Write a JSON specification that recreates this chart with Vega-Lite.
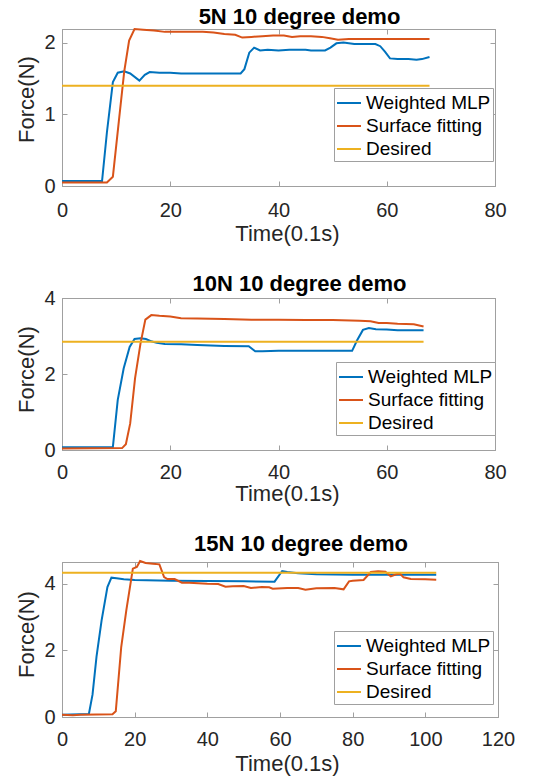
{
  "$schema": "https://vega.github.io/schema/vega-lite/v6.json",
  "background": "white",
  "padding": {"left": 15, "top": 5, "right": 5, "bottom": 2},
  "spacing": 27,
  "datasets": {
    "p1": [
      {"t": 0, "f": 0.07, "series": "Weighted MLP"},
      {"t": 7.4, "f": 0.07, "series": "Weighted MLP"},
      {"t": 8.3, "f": 0.75, "series": "Weighted MLP"},
      {"t": 9.4, "f": 1.45, "series": "Weighted MLP"},
      {"t": 10.3, "f": 1.58, "series": "Weighted MLP"},
      {"t": 11.5, "f": 1.6, "series": "Weighted MLP"},
      {"t": 12.6, "f": 1.57, "series": "Weighted MLP"},
      {"t": 14.3, "f": 1.47, "series": "Weighted MLP"},
      {"t": 15.3, "f": 1.55, "series": "Weighted MLP"},
      {"t": 16.2, "f": 1.59, "series": "Weighted MLP"},
      {"t": 18, "f": 1.58, "series": "Weighted MLP"},
      {"t": 20, "f": 1.58, "series": "Weighted MLP"},
      {"t": 22, "f": 1.57, "series": "Weighted MLP"},
      {"t": 26, "f": 1.57, "series": "Weighted MLP"},
      {"t": 30, "f": 1.57, "series": "Weighted MLP"},
      {"t": 33, "f": 1.57, "series": "Weighted MLP"},
      {"t": 33.7, "f": 1.63, "series": "Weighted MLP"},
      {"t": 34.6, "f": 1.86, "series": "Weighted MLP"},
      {"t": 35.5, "f": 1.93, "series": "Weighted MLP"},
      {"t": 36.6, "f": 1.89, "series": "Weighted MLP"},
      {"t": 38, "f": 1.9, "series": "Weighted MLP"},
      {"t": 40, "f": 1.89, "series": "Weighted MLP"},
      {"t": 42, "f": 1.9, "series": "Weighted MLP"},
      {"t": 45, "f": 1.9, "series": "Weighted MLP"},
      {"t": 46, "f": 1.89, "series": "Weighted MLP"},
      {"t": 48.6, "f": 1.89, "series": "Weighted MLP"},
      {"t": 49.6, "f": 1.93, "series": "Weighted MLP"},
      {"t": 50.7, "f": 1.99, "series": "Weighted MLP"},
      {"t": 52, "f": 2.0, "series": "Weighted MLP"},
      {"t": 54, "f": 1.98, "series": "Weighted MLP"},
      {"t": 57.9, "f": 1.98, "series": "Weighted MLP"},
      {"t": 58.8, "f": 1.95, "series": "Weighted MLP"},
      {"t": 59.7, "f": 1.87, "series": "Weighted MLP"},
      {"t": 60.6, "f": 1.78, "series": "Weighted MLP"},
      {"t": 62, "f": 1.77, "series": "Weighted MLP"},
      {"t": 64, "f": 1.77, "series": "Weighted MLP"},
      {"t": 65.5, "f": 1.76, "series": "Weighted MLP"},
      {"t": 66.5, "f": 1.77, "series": "Weighted MLP"},
      {"t": 67.9, "f": 1.8, "series": "Weighted MLP"},
      {"t": 0, "f": 0.05, "series": "Surface fitting"},
      {"t": 8.3, "f": 0.05, "series": "Surface fitting"},
      {"t": 9.4, "f": 0.13, "series": "Surface fitting"},
      {"t": 10.5, "f": 0.9, "series": "Surface fitting"},
      {"t": 11.5, "f": 1.6, "series": "Surface fitting"},
      {"t": 12.4, "f": 2.03, "series": "Surface fitting"},
      {"t": 13.4, "f": 2.19, "series": "Surface fitting"},
      {"t": 15, "f": 2.18, "series": "Surface fitting"},
      {"t": 17, "f": 2.17, "series": "Surface fitting"},
      {"t": 19, "f": 2.15, "series": "Surface fitting"},
      {"t": 22, "f": 2.15, "series": "Surface fitting"},
      {"t": 26, "f": 2.15, "series": "Surface fitting"},
      {"t": 28, "f": 2.14, "series": "Surface fitting"},
      {"t": 30, "f": 2.12, "series": "Surface fitting"},
      {"t": 32, "f": 2.11, "series": "Surface fitting"},
      {"t": 33.3, "f": 2.07, "series": "Surface fitting"},
      {"t": 35, "f": 2.08, "series": "Surface fitting"},
      {"t": 37, "f": 2.09, "series": "Surface fitting"},
      {"t": 39, "f": 2.1, "series": "Surface fitting"},
      {"t": 41, "f": 2.1, "series": "Surface fitting"},
      {"t": 42.5, "f": 2.08, "series": "Surface fitting"},
      {"t": 44, "f": 2.09, "series": "Surface fitting"},
      {"t": 46, "f": 2.09, "series": "Surface fitting"},
      {"t": 48, "f": 2.08, "series": "Surface fitting"},
      {"t": 49.5, "f": 2.06, "series": "Surface fitting"},
      {"t": 51, "f": 2.04, "series": "Surface fitting"},
      {"t": 53, "f": 2.05, "series": "Surface fitting"},
      {"t": 60, "f": 2.05, "series": "Surface fitting"},
      {"t": 67.9, "f": 2.05, "series": "Surface fitting"},
      {"t": 0, "f": 1.4, "series": "Desired"},
      {"t": 67.9, "f": 1.4, "series": "Desired"}
    ],
    "p2": [
      {"t": 0, "f": 0.07, "series": "Weighted MLP"},
      {"t": 9.4, "f": 0.08, "series": "Weighted MLP"},
      {"t": 10.3, "f": 1.32, "series": "Weighted MLP"},
      {"t": 11.4, "f": 2.15, "series": "Weighted MLP"},
      {"t": 12.5, "f": 2.71, "series": "Weighted MLP"},
      {"t": 13.4, "f": 2.92, "series": "Weighted MLP"},
      {"t": 14.5, "f": 2.94, "series": "Weighted MLP"},
      {"t": 15.5, "f": 2.92, "series": "Weighted MLP"},
      {"t": 16.5, "f": 2.86, "series": "Weighted MLP"},
      {"t": 17.5, "f": 2.82, "series": "Weighted MLP"},
      {"t": 19, "f": 2.79, "series": "Weighted MLP"},
      {"t": 22, "f": 2.78, "series": "Weighted MLP"},
      {"t": 25, "f": 2.76, "series": "Weighted MLP"},
      {"t": 30, "f": 2.74, "series": "Weighted MLP"},
      {"t": 34.5, "f": 2.73, "series": "Weighted MLP"},
      {"t": 35.7, "f": 2.6, "series": "Weighted MLP"},
      {"t": 37, "f": 2.6, "series": "Weighted MLP"},
      {"t": 40, "f": 2.61, "series": "Weighted MLP"},
      {"t": 45, "f": 2.61, "series": "Weighted MLP"},
      {"t": 50, "f": 2.61, "series": "Weighted MLP"},
      {"t": 53.6, "f": 2.61, "series": "Weighted MLP"},
      {"t": 54.5, "f": 2.88, "series": "Weighted MLP"},
      {"t": 55.6, "f": 3.16, "series": "Weighted MLP"},
      {"t": 56.7, "f": 3.21, "series": "Weighted MLP"},
      {"t": 58, "f": 3.18, "series": "Weighted MLP"},
      {"t": 60, "f": 3.17, "series": "Weighted MLP"},
      {"t": 62, "f": 3.15, "series": "Weighted MLP"},
      {"t": 66.8, "f": 3.15, "series": "Weighted MLP"},
      {"t": 0, "f": 0.04, "series": "Surface fitting"},
      {"t": 11.1, "f": 0.05, "series": "Surface fitting"},
      {"t": 11.8, "f": 0.15, "series": "Surface fitting"},
      {"t": 12.6, "f": 0.7, "series": "Surface fitting"},
      {"t": 13.5, "f": 1.89, "series": "Surface fitting"},
      {"t": 14.5, "f": 2.8, "series": "Surface fitting"},
      {"t": 15.4, "f": 3.43, "series": "Surface fitting"},
      {"t": 16.5, "f": 3.55, "series": "Surface fitting"},
      {"t": 18, "f": 3.53, "series": "Surface fitting"},
      {"t": 20, "f": 3.51, "series": "Surface fitting"},
      {"t": 22, "f": 3.47, "series": "Surface fitting"},
      {"t": 25, "f": 3.46, "series": "Surface fitting"},
      {"t": 30, "f": 3.45, "series": "Surface fitting"},
      {"t": 35, "f": 3.43, "series": "Surface fitting"},
      {"t": 40, "f": 3.43, "series": "Surface fitting"},
      {"t": 45, "f": 3.42, "series": "Surface fitting"},
      {"t": 50, "f": 3.42, "series": "Surface fitting"},
      {"t": 55, "f": 3.4, "series": "Surface fitting"},
      {"t": 57, "f": 3.39, "series": "Surface fitting"},
      {"t": 58.5, "f": 3.34, "series": "Surface fitting"},
      {"t": 60, "f": 3.34, "series": "Surface fitting"},
      {"t": 62, "f": 3.32, "series": "Surface fitting"},
      {"t": 65, "f": 3.31, "series": "Surface fitting"},
      {"t": 66.8, "f": 3.25, "series": "Surface fitting"},
      {"t": 0, "f": 2.85, "series": "Desired"},
      {"t": 66.8, "f": 2.85, "series": "Desired"}
    ],
    "p3": [
      {"t": 0, "f": 0.07, "series": "Weighted MLP"},
      {"t": 7.4, "f": 0.09, "series": "Weighted MLP"},
      {"t": 8.4, "f": 0.67, "series": "Weighted MLP"},
      {"t": 9.5, "f": 1.81, "series": "Weighted MLP"},
      {"t": 10.9, "f": 2.9, "series": "Weighted MLP"},
      {"t": 12.5, "f": 3.9, "series": "Weighted MLP"},
      {"t": 13.6, "f": 4.18, "series": "Weighted MLP"},
      {"t": 15, "f": 4.16, "series": "Weighted MLP"},
      {"t": 17, "f": 4.13, "series": "Weighted MLP"},
      {"t": 20, "f": 4.11, "series": "Weighted MLP"},
      {"t": 30, "f": 4.09, "series": "Weighted MLP"},
      {"t": 40, "f": 4.08, "series": "Weighted MLP"},
      {"t": 50, "f": 4.07, "series": "Weighted MLP"},
      {"t": 58.5, "f": 4.06, "series": "Weighted MLP"},
      {"t": 60.6, "f": 4.38, "series": "Weighted MLP"},
      {"t": 62, "f": 4.35, "series": "Weighted MLP"},
      {"t": 65, "f": 4.31, "series": "Weighted MLP"},
      {"t": 70, "f": 4.28, "series": "Weighted MLP"},
      {"t": 80, "f": 4.27, "series": "Weighted MLP"},
      {"t": 90, "f": 4.27, "series": "Weighted MLP"},
      {"t": 103, "f": 4.27, "series": "Weighted MLP"},
      {"t": 0, "f": 0.07, "series": "Surface fitting"},
      {"t": 3, "f": 0.05, "series": "Surface fitting"},
      {"t": 5, "f": 0.07, "series": "Surface fitting"},
      {"t": 13.9, "f": 0.08, "series": "Surface fitting"},
      {"t": 14.8, "f": 0.17, "series": "Surface fitting"},
      {"t": 16.3, "f": 2.1, "series": "Surface fitting"},
      {"t": 17.7, "f": 3.2, "series": "Surface fitting"},
      {"t": 19.5, "f": 4.45, "series": "Surface fitting"},
      {"t": 20.6, "f": 4.5, "series": "Surface fitting"},
      {"t": 21.5, "f": 4.68, "series": "Surface fitting"},
      {"t": 23, "f": 4.62, "series": "Surface fitting"},
      {"t": 25, "f": 4.6, "series": "Surface fitting"},
      {"t": 26.8, "f": 4.58, "series": "Surface fitting"},
      {"t": 28.1, "f": 4.2, "series": "Surface fitting"},
      {"t": 29, "f": 4.14, "series": "Surface fitting"},
      {"t": 31, "f": 4.14, "series": "Surface fitting"},
      {"t": 33, "f": 4.03, "series": "Surface fitting"},
      {"t": 35, "f": 4.03, "series": "Surface fitting"},
      {"t": 40, "f": 4.0, "series": "Surface fitting"},
      {"t": 43, "f": 3.99, "series": "Surface fitting"},
      {"t": 45, "f": 3.91, "series": "Surface fitting"},
      {"t": 47, "f": 3.92, "series": "Surface fitting"},
      {"t": 50, "f": 3.93, "series": "Surface fitting"},
      {"t": 52, "f": 3.87, "series": "Surface fitting"},
      {"t": 55, "f": 3.9, "series": "Surface fitting"},
      {"t": 57, "f": 3.89, "series": "Surface fitting"},
      {"t": 58, "f": 3.85, "series": "Surface fitting"},
      {"t": 62, "f": 3.87, "series": "Surface fitting"},
      {"t": 65, "f": 3.87, "series": "Surface fitting"},
      {"t": 67, "f": 3.82, "series": "Surface fitting"},
      {"t": 70, "f": 3.86, "series": "Surface fitting"},
      {"t": 75, "f": 3.87, "series": "Surface fitting"},
      {"t": 77.5, "f": 3.83, "series": "Surface fitting"},
      {"t": 79, "f": 4.07, "series": "Surface fitting"},
      {"t": 80, "f": 4.09, "series": "Surface fitting"},
      {"t": 83, "f": 4.11, "series": "Surface fitting"},
      {"t": 85, "f": 4.35, "series": "Surface fitting"},
      {"t": 87, "f": 4.37, "series": "Surface fitting"},
      {"t": 89, "f": 4.36, "series": "Surface fitting"},
      {"t": 90.5, "f": 4.22, "series": "Surface fitting"},
      {"t": 92, "f": 4.28, "series": "Surface fitting"},
      {"t": 93, "f": 4.3, "series": "Surface fitting"},
      {"t": 94, "f": 4.19, "series": "Surface fitting"},
      {"t": 96, "f": 4.14, "series": "Surface fitting"},
      {"t": 100, "f": 4.13, "series": "Surface fitting"},
      {"t": 103, "f": 4.12, "series": "Surface fitting"},
      {"t": 0, "f": 4.33, "series": "Desired"},
      {"t": 103, "f": 4.33, "series": "Desired"}
    ]
  },
  "vconcat": [
    {
      "title": {"text": "5N 10 degree demo", "offset": -4, "dx": 21},
      "width": 433,
      "height": 157,
      "data": {"name": "p1"},
      "layer": [
        {
          "mark": {"type": "line", "strokeWidth": 2},
          "encoding": {
            "x": {"field": "t", "type": "quantitative", "scale": {"domain": [0, 80], "nice": false}, "axis": {"values": [0, 20, 40, 60, 80], "title": "Time(0.1s)", "labelPadding": 19, "titlePadding": 3, "titleX": 225}},
            "y": {"field": "f", "type": "quantitative", "scale": {"domain": [0, 2.19], "nice": false}, "axis": {"values": [0, 1, 2], "title": "Force(N)", "titleY": 70}},
            "color": {"field": "series", "type": "nominal", "sort": null, "scale": {"domain": ["Weighted MLP", "Surface fitting", "Desired"], "range": ["#0072BD", "#D95319", "#EDB120"]}, "legend": {"legendX": 272, "legendY": 59, "labelExpr": "datum.value == 'Weighted MLP' ? datum.value : '\\u00a0' + datum.value"}}
          }
        },
        {
          "mark": {"type": "line", "strokeOpacity": 0},
          "encoding": {
            "x": {"field": "t", "type": "quantitative", "scale": {"domain": [0, 80], "nice": false}, "axis": {"orient": "top", "values": [0, 20, 40, 60, 80], "labels": false, "title": null}},
            "y": {"field": "f", "type": "quantitative", "scale": {"domain": [0, 2.19], "nice": false}, "axis": {"orient": "right", "values": [0, 1, 2], "labels": false, "title": null}}
          }
        }
      ],
      "resolve": {"axis": {"x": "independent", "y": "independent"}}
    },
    {
      "title": {"text": "10N 10 degree demo", "offset": -8, "dx": 21},
      "width": 433,
      "height": 152,
      "data": {"name": "p2"},
      "layer": [
        {
          "mark": {"type": "line", "strokeWidth": 2},
          "encoding": {
            "x": {"field": "t", "type": "quantitative", "scale": {"domain": [0, 80], "nice": false}, "axis": {"values": [0, 20, 40, 60, 80], "title": "Time(0.1s)", "labelPadding": 17, "titlePadding": 1, "titleX": 225}},
            "y": {"field": "f", "type": "quantitative", "scale": {"domain": [0, 4], "nice": false}, "axis": {"values": [0, 2, 4], "title": "Force(N)", "titleY": 71}},
            "color": {"field": "series", "type": "nominal", "sort": null, "scale": {"domain": ["Weighted MLP", "Surface fitting", "Desired"], "range": ["#0072BD", "#D95319", "#EDB120"]}, "legend": {"legendX": 274, "legendY": 64, "labelExpr": "datum.value == 'Weighted MLP' ? datum.value : '\\u00a0' + datum.value"}}
          }
        },
        {
          "mark": {"type": "line", "strokeOpacity": 0},
          "encoding": {
            "x": {"field": "t", "type": "quantitative", "scale": {"domain": [0, 80], "nice": false}, "axis": {"orient": "top", "values": [0, 20, 40, 60, 80], "labels": false, "title": null}},
            "y": {"field": "f", "type": "quantitative", "scale": {"domain": [0, 4], "nice": false}, "axis": {"orient": "right", "values": [0, 2, 4], "labels": false, "title": null}}
          }
        }
      ],
      "resolve": {"axis": {"x": "independent", "y": "independent"}}
    },
    {
      "title": {"text": "15N 10 degree demo", "offset": 1, "dx": 21},
      "width": 436,
      "height": 155,
      "data": {"name": "p3"},
      "layer": [
        {
          "mark": {"type": "line", "strokeWidth": 2},
          "encoding": {
            "x": {"field": "t", "type": "quantitative", "scale": {"domain": [0, 120], "nice": false}, "axis": {"values": [0, 20, 40, 60, 80, 100, 120], "title": "Time(0.1s)", "labelPadding": 17, "titlePadding": 4, "titleX": 225}},
            "y": {"field": "f", "type": "quantitative", "scale": {"domain": [0, 4.65], "nice": false}, "axis": {"values": [0, 2, 4], "title": "Force(N)", "titleY": 72}},
            "color": {"field": "series", "type": "nominal", "sort": null, "scale": {"domain": ["Weighted MLP", "Surface fitting", "Desired"], "range": ["#0072BD", "#D95319", "#EDB120"]}, "legend": {"legendX": 272, "legendY": 69, "labelExpr": "datum.value == 'Weighted MLP' ? datum.value : '\\u00a0' + datum.value"}}
          }
        },
        {
          "mark": {"type": "line", "strokeOpacity": 0},
          "encoding": {
            "x": {"field": "t", "type": "quantitative", "scale": {"domain": [0, 120], "nice": false}, "axis": {"orient": "top", "values": [0, 20, 40, 60, 80, 100, 120], "labels": false, "title": null}},
            "y": {"field": "f", "type": "quantitative", "scale": {"domain": [0, 4.65], "nice": false}, "axis": {"orient": "right", "values": [0, 2, 4], "labels": false, "title": null}}
          }
        }
      ],
      "resolve": {"axis": {"x": "independent", "y": "independent"}}
    }
  ],
  "resolve": {"scale": {"color": "independent"}},
  "config": {
    "font": "Liberation Sans",
    "view": {"stroke": "#a0a0a0", "strokeWidth": 1},
    "title": {"fontSize": 22, "fontWeight": "bold", "color": "#000000", "anchor": "middle"},
    "axis": {
      "grid": false,
      "labelFontSize": 20,
      "titleFontSize": 22,
      "titleFontWeight": "normal",
      "labelColor": "#262626",
      "titleColor": "#262626",
      "domainColor": "#a0a0a0",
      "tickColor": "#a0a0a0",
      "tickSize": -5,
      "labelFlush": false,
      "labelOverlap": false
    },
    "axisY": {"labelPadding": 12, "titlePadding": 5},
    "legend": {
      "orient": "none",
      "title": null,
      "labelFontSize": 19,
      "labelColor": "#000000",
      "symbolType": "stroke",
      "symbolStrokeWidth": 2,
      "symbolSize": 576,
      "strokeColor": "#a0a0a0",
      "fillColor": "#ffffff",
      "padding": 2,
      "rowPadding": 0,
      "labelOffset": 4
    }
  }
}
